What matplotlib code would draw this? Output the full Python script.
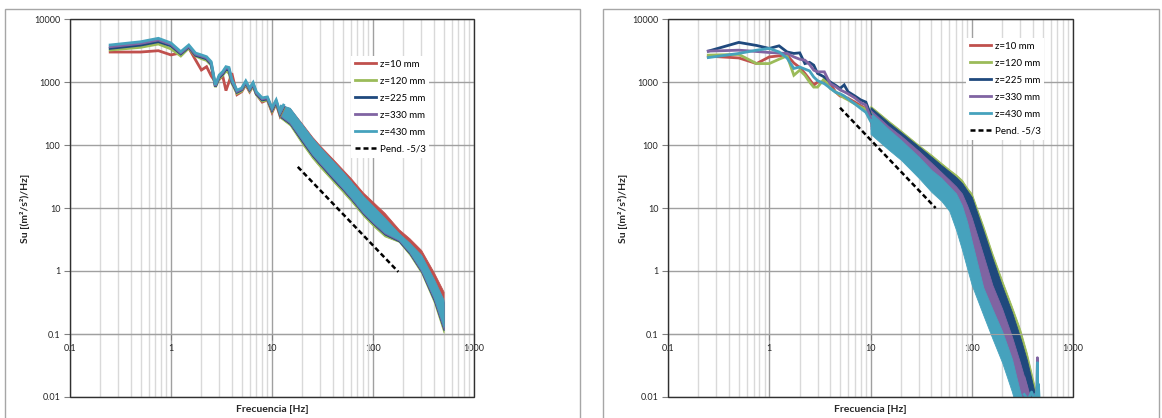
import numpy as np
import matplotlib
matplotlib.use('Agg')
import matplotlib.pyplot as plt
from matplotlib.patches import Rectangle
from matplotlib.ticker import LogLocator, NullLocator, NullFormatter

plt.rcParams['font.family'] = ['Lato', 'DejaVu Sans']

# %%
# series
labels = ['z=10 mm', 'z=120 mm', 'z=225 mm', 'z=330 mm', 'z=430 mm']
colors = ['#C0504D', '#9BBB59', '#1F497D', '#8064A2', '#46A2BD']
slope_label = 'Pend. -5/3'

x_ticks = [0.1, 1, 10, 100, 1000]
x_tick_labels = ['0.1', '1', '10', '100', '1000']
y_ticks = [0.01, 0.1, 1, 10, 100, 1000, 10000]
y_tick_labels = ['0.01', '0.1', '1', '10', '100', '1000', '10000']

# %%
# left chart: low frequency part (single lines)
f_line_l = [0.25, 0.5, 0.75, 1.0, 1.25, 1.5, 1.75, 2.0, 2.25, 2.5, 2.75, 3.0, 3.25, 3.5, 3.75, 4.0, 4.5,
            5.0, 5.5, 6.0, 6.5, 7.0, 8.0, 9.0, 10, 11, 12, 13]
red_l = [2990, 2990, 3140, 2690, 2900, 3450, 2240, 1550, 1750, 1250, 1000, 1100, 1250, 730, 1000, 1380, 630,
         700, 900, 700, 870, 640, 480, 520, 330, 450, 290, 380]
green_l = [3220, 3550, 4010, 3350, 2590, 3460, 2600, 2350, 2200, 1850, 830, 1120, 1280, 1500, 1380, 960, 660,
           720, 930, 720, 870, 630, 500, 520, 345, 460, 300, 385]
blue_l = [3420, 3850, 4370, 3750, 2800, 3600, 2650, 2480, 2330, 1920, 850, 1180, 1340, 1600, 1540, 1010, 690,
          750, 970, 750, 910, 650, 520, 540, 360, 480, 310, 400]
purple_l = [3630, 4100, 4650, 3950, 2900, 3700, 2750, 2580, 2420, 2000, 870, 1230, 1400, 1680, 1620, 1050, 710,
            770, 1000, 770, 940, 670, 540, 560, 375, 500, 322, 412]
cyan_l = [3870, 4350, 4940, 4160, 3030, 3870, 2880, 2690, 2520, 2100, 900, 1290, 1460, 1750, 1700, 1100, 740,
          800, 1040, 800, 980, 700, 560, 580, 390, 520, 335, 430]

# left chart: high frequency part (noisy band, lower / upper envelope)
f_band_l = [12, 15, 20, 25, 30, 40, 50, 60, 80, 100, 130, 180, 230, 300, 400, 500]
red_l_lo = [285, 215, 118, 72, 53, 32, 22, 16, 9.3, 6.5, 4.5, 3.3, 2.2, 1.15, 0.42, 0.15]
red_l_hi = [430, 385, 215, 135, 97, 60, 41, 30, 17.5, 12.5, 8.4, 4.6, 3.3, 2.15, 0.95, 0.47]
green_l_lo = [270, 205, 102, 62, 44, 26.5, 18, 13, 7.5, 5.2, 3.55, 2.9, 1.8, 0.93, 0.32, 0.105]
green_l_hi = [400, 355, 190, 120, 84, 51, 34.5, 24.5, 14, 9.8, 6.3, 3.6, 2.5, 1.6, 0.66, 0.3]
blue_l_lo = [280, 215, 110, 67, 48, 28.5, 19.5, 14, 8.0, 5.6, 3.8, 2.95, 1.88, 0.97, 0.34, 0.115]
blue_l_hi = [420, 370, 200, 125, 88, 54, 36, 26, 14.7, 10.3, 6.6, 3.8, 2.65, 1.7, 0.7, 0.32]
purple_l_lo = [290, 222, 116, 70, 50, 30, 20.3, 14.5, 8.3, 5.8, 3.95, 3.05, 1.95, 1.0, 0.36, 0.12]
purple_l_hi = [430, 380, 205, 128, 90, 55, 37, 26.5, 15, 10.5, 6.8, 3.9, 2.7, 1.75, 0.72, 0.33]
cyan_l_lo = [300, 230, 120, 72, 52, 31, 21, 15, 8.6, 6.0, 4.1, 3.15, 2.0, 1.05, 0.38, 0.13]
cyan_l_hi = [440, 390, 210, 130, 92, 56, 38, 27, 15.5, 10.8, 7.0, 4.0, 2.8, 1.8, 0.75, 0.35]

f_slope_l = [18, 178]
su_slope_l = [45, 0.97]

# %%
# right chart: low frequency part
f_line_r = [0.25, 0.5, 0.75, 1.0, 1.25, 1.5, 1.75, 2.0, 2.25, 2.5, 2.75, 3.0, 3.5, 4.0, 4.5,
            5.0, 5.5, 6.0, 7.0, 8.0, 9.0, 10]
red_r = [2570, 2410, 1960, 2500, 2600, 2670, 2000, 1700, 1370, 1100, 890, 1000, 980, 960, 700,
         600, 580, 550, 480, 420, 380, 300]
green_r = [2670, 2740, 1960, 1960, 2300, 2600, 1280, 1540, 1280, 1000, 830, 830, 1130, 790, 700,
           620, 560, 520, 450, 400, 370, 320]
blue_r = [3090, 4250, 3800, 3410, 3750, 3000, 2840, 2900, 1960, 2050, 1850, 1370, 1200, 1000, 890,
          790, 900, 700, 600, 520, 480, 310]
purple_r = [3090, 3200, 3050, 2940, 2880, 2840, 2500, 2300, 2220, 1900, 1540, 1450, 1450, 940, 850,
            750, 700, 650, 560, 470, 430, 270]
cyan_r = [2440, 2840, 3200, 3410, 3000, 2400, 1640, 1730, 1600, 1500, 1200, 1050, 940, 800, 690,
          650, 600, 540, 450, 380, 330, 240]

# right chart: high frequency band
f_band_r = [10, 15, 20, 30, 40, 50, 60, 70, 80, 90, 100, 130, 160, 200, 250, 300, 350, 400, 450]
red_r_lo = [200, 110, 78, 44, 28, 20, 15, 11, 8, 4.5, 2.5, 0.6, 0.25, 0.12, 0.05, 0.02, 0.01, 0.004, 0.002]
red_r_hi = [380, 215, 150, 88, 60, 44, 34, 27, 22, 16, 12, 3.5, 1.2, 0.45, 0.16, 0.06, 0.025, 0.01, 0.005]
green_r_lo = [230, 130, 90, 52, 34, 26, 20, 15, 12, 6.5, 3.5, 0.9, 0.45, 0.21, 0.1, 0.035, 0.012, 0.005, 0.002]
green_r_hi = [420, 245, 170, 100, 70, 52, 41, 34, 28, 21, 17, 5.2, 1.9, 0.7, 0.27, 0.12, 0.05, 0.02, 0.009]
blue_r_lo = [220, 120, 85, 48, 32, 24, 18, 14, 10, 5.5, 3.0, 0.75, 0.38, 0.18, 0.09, 0.027, 0.008, 0.003, 0.001]
blue_r_hi = [400, 230, 160, 95, 65, 48, 38, 31, 25, 19, 15, 4.4, 1.6, 0.57, 0.22, 0.09, 0.039, 0.016, 0.007]
purple_r_lo = [180, 100, 70, 38, 23, 16, 11, 7.5, 5, 2.8, 1.5, 0.45, 0.17, 0.07, 0.025, 0.01, 0.004, 0.002, 0.001]
purple_r_hi = [360, 200, 140, 80, 52, 37, 28, 22, 17, 11, 7, 1.8, 0.6, 0.25, 0.09, 0.035, 0.015, 0.006, 0.003]
cyan_r_lo = [150, 85, 58, 30, 18, 13, 9, 4.5, 2.2, 1.1, 0.6, 0.2, 0.085, 0.035, 0.012, 0.004, 0.002, 0.001, 0.001]
cyan_r_hi = [330, 180, 120, 65, 40, 30, 22, 17, 11, 6, 3.0, 0.55, 0.25, 0.11, 0.04, 0.012, 0.006, 0.004, 0.002]

# last points near the bottom (spikes around 445 Hz)
f_tail_r = [330, 360, 390, 420, 440, 445, 450, 455, 470]
purple_tail_r = [0.02, 0.012, 0.009, 0.011, 0.008, 0.042, 0.007, 0.006, 0.005]
cyan_tail_r = [0.011, 0.009, 0.012, 0.009, 0.013, 0.035, 0.008, 0.016, 0.006]

f_slope_r = [5, 44]
su_slope_r = [390, 10]


# %%
def draw_panel(ax, f_line, lines, f_band, lows, highs, f_slope, su_slope):
    for i in range(len(labels)):
        ax.fill_between(f_band, lows[i], highs[i], color=colors[i], lw=0.6, edgecolor=colors[i])
        ax.plot(f_line, lines[i], color=colors[i], lw=2, label=labels[i], solid_joinstyle='miter')
    ax.plot(f_slope, su_slope, color='black', lw=1.8, ls=(0, (2, 1.2)), label=slope_label, zorder=4)

    ax.set_xscale('log')
    ax.set_yscale('log')
    ax.set_xlim(0.1, 1000)
    ax.set_ylim(0.01, 10000)
    ax.set_xticks(x_ticks, x_tick_labels)
    ax.set_yticks(y_ticks, y_tick_labels)
    ax.xaxis.set_minor_locator(LogLocator(base=10, subs=np.arange(2, 10)))
    ax.xaxis.set_minor_formatter(NullFormatter())
    ax.yaxis.set_minor_locator(NullLocator())
    ax.set_axisbelow(True)
    ax.grid(which='major', axis='both', color='#a0a0a0', lw=1)
    ax.grid(which='minor', axis='x', color='#d9d9d9', lw=1)
    ax.tick_params(which='minor', length=0)
    ax.tick_params(which='major', length=4, width=0.8, color='#808080', labelsize=6.5,
                   labelcolor='#262626', pad=3)

    # horizontal axis crosses at 0.1 like in excel
    for s in ['top', 'right', 'left']:
        ax.spines[s].set_visible(False)
    ax.spines['bottom'].set_position(('data', 0.1))
    ax.spines['bottom'].set_color('#a0a0a0')
    ax.add_patch(Rectangle((0, 0), 1, 1, transform=ax.transAxes, fill=False,
                           ec='#303030', lw=1, clip_on=False, zorder=6))

    ax.set_ylabel('Su [(m²/s²)/Hz]', fontsize=7.5, fontweight='bold', color='#262626')
    ax.yaxis.set_label_coords(-0.099, 0.5)
    ax.set_xlabel('Frecuencia [Hz]', fontsize=7.5, fontweight='bold', color='#262626')
    ax.xaxis.label.set_va('center')
    ax.xaxis.set_label_coords(0.5, -0.032)


W, H = 1162, 418
fig = plt.figure(figsize=(W / 100, H / 100), dpi=100)

ax1 = fig.add_axes([70 / W, 1 - 397 / H, 404 / W, 378 / H])
ax2 = fig.add_axes([668 / W, 1 - 397 / H, 405 / W, 378 / H])

draw_panel(ax1, f_line_l, [red_l, green_l, blue_l, purple_l, cyan_l], f_band_l,
           [red_l_lo, green_l_lo, blue_l_lo, purple_l_lo, cyan_l_lo],
           [red_l_hi, green_l_hi, blue_l_hi, purple_l_hi, cyan_l_hi], f_slope_l, su_slope_l)
draw_panel(ax2, f_line_r, [red_r, green_r, blue_r, purple_r, cyan_r], f_band_r,
           [red_r_lo, green_r_lo, blue_r_lo, purple_r_lo, cyan_r_lo],
           [red_r_hi, green_r_hi, blue_r_hi, purple_r_hi, cyan_r_hi], f_slope_r, su_slope_r)
ax2.plot(f_tail_r, purple_tail_r, color=colors[3], lw=2)
ax2.plot(f_tail_r, cyan_tail_r, color=colors[4], lw=2)

# legends
for ax, (lx, ly) in [(ax1, (351, 56)), (ax2, (966, 38))]:
    ax.legend(loc='upper left', bbox_to_anchor=(lx / W, 1 - ly / H), bbox_transform=fig.transFigure,
              fontsize=7, frameon=True, facecolor='white', edgecolor='none', framealpha=1,
              fancybox=False, borderpad=0.4, labelspacing=0.82, handlelength=2.2,
              handletextpad=0.35, borderaxespad=0)

# chart area borders
fig.add_artist(Rectangle((5 / W, -0.1), 575 / W, 1.1 - 9 / H, transform=fig.transFigure,
                         fill=False, ec='#a6a6a6', lw=1))
fig.add_artist(Rectangle((603 / W, -0.1), 556 / W, 1.1 - 9 / H, transform=fig.transFigure,
                         fill=False, ec='#a6a6a6', lw=1))

fig.savefig('out.png', dpi=100)
